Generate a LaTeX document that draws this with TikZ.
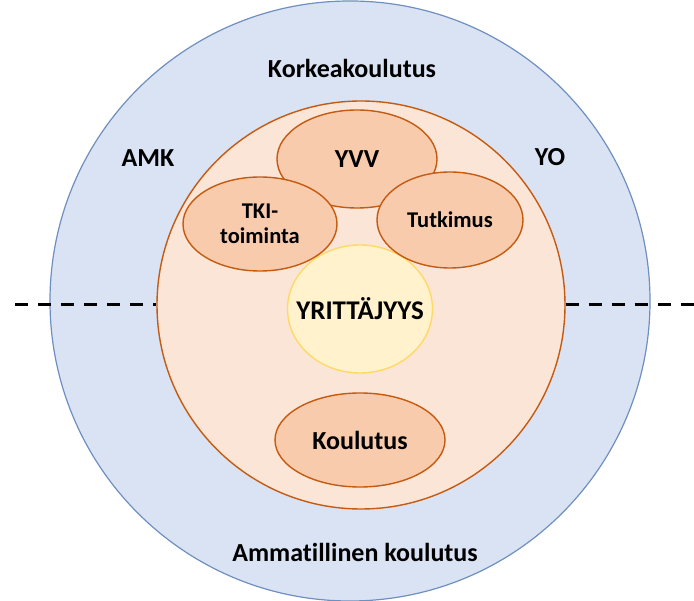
\documentclass[tikz,border=0pt]{standalone}
\usepackage{fontspec}
\setmainfont{Carlito}[Ligatures=NoCommon]
\usetikzlibrary{shapes.geometric}
\definecolor{ulkosini}{HTML}{DAE3F3}
\definecolor{ulkoreuna}{HTML}{6F8FC0}
\definecolor{sisapohja}{HTML}{FBE5D6}
\definecolor{oranssi}{HTML}{C55A11}
\definecolor{lohi}{HTML}{F8CBAD}
\definecolor{keltainen}{HTML}{FFF2CC}
\definecolor{kultareuna}{HTML}{FFD966}
\tikzset{
  alue/.style={ellipse,draw=oranssi,fill=lohi,line width=1.4pt,inner sep=0pt,font=\bfseries\fontsize{26}{27}\selectfont,align=center},
  pieni/.style={font=\bfseries\fontsize{22.5}{25}\selectfont},
  otsikko/.style={font=\bfseries\fontsize{26}{28}\selectfont},
  raja/.style={line width=3pt,dash pattern=on 13pt off 10pt}
}

\begin{document}
\begin{tikzpicture}[x=1pt,y=-1pt]
\useasboundingbox (0,0) rectangle (694,601);
% ympyrat
\node[circle,draw=ulkoreuna,fill=ulkosini,line width=1.2pt,minimum size=600pt,inner sep=0pt] (korkea) at (350,301) {};
\node[circle,draw=oranssi,fill=sisapohja,line width=1.4pt,minimum size=408pt,inner sep=0pt] (sisa) at (361,305) {};
\node[alue,draw=kultareuna,fill=keltainen,minimum width=145pt,minimum height=128pt,font=\bfseries\fontsize{27}{28}\selectfont] (yrit) at (360,309) {\makebox[0pt]{YRITTÄJYYS}};
\node[alue,minimum width=160pt,minimum height=98pt] (yvv) at (357,159) {YVV};
\node[alue,pieni,minimum width=154pt,minimum height=94pt] (tki) at (260,224) {TKI-\\toiminta};
\node[alue,pieni,minimum width=146pt,minimum height=96pt] (tutk) at (450,220) {Tutkimus};
\node[alue,minimum width=170pt,minimum height=94pt] (koul) at (360,440) {Koulutus};
% katkoviiva
\coordinate (vasen) at (15,305);
\coordinate (oikea) at (694,305);
\draw[raja] (vasen) -- (sisa.west);
\draw[raja] (sisa.east) -- (oikea);
% tekstit
\node[otsikko] (kork) at (352,68) {Korkeakoulutus};
\node[otsikko] (amk) at (148,158) {AMK};
\node[otsikko] (yo) at (550,157) {YO};
\node[otsikko] (ammat) at (355,552) {Ammatillinen koulutus};
\end{tikzpicture}
\end{document}
